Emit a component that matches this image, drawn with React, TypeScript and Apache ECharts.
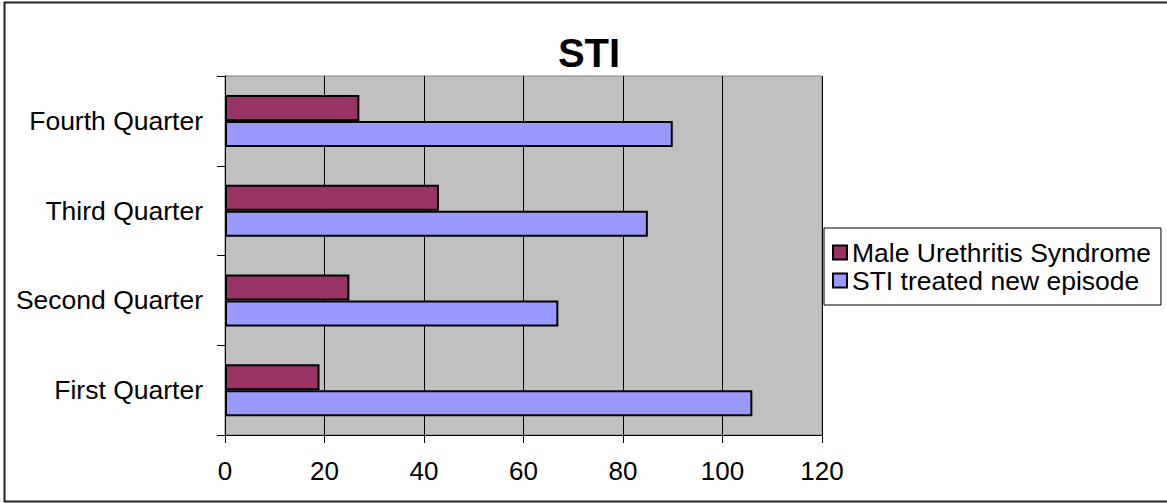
import React, { useEffect, useRef } from "react";
import * as echarts from "echarts";

const categories = ["First Quarter", "Second Quarter", "Third Quarter", "Fourth Quarter"];
const maleUrethritis = [19, 25, 43, 27];
const stiTreated = [106, 67, 85, 90];
const xTicks = { min: 0, max: 120, interval: 20 };
const seriesNames = ["Male Urethritis Syndrome", "STI treated new episode"];

const FONT = "'Liberation Sans', Arial, sans-serif";

export default function App() {
  const ref = useRef<HTMLDivElement>(null);
  useEffect(() => {
    if (!ref.current) return;
    const chart = echarts.init(ref.current, undefined, { renderer: "svg" });
    chart.setOption({
      animation: false,
      backgroundColor: "#ffffff",
      title: {
        text: "STI",
        left: 589,
        top: 33,
        textAlign: "center",
        padding: 0,
        textStyle: { fontFamily: FONT, fontSize: 40, fontWeight: "bold", color: "#000" },
      },
      legend: {
        orient: "vertical",
        left: 824,
        top: 228,
        data: seriesNames,
        backgroundColor: "#fff",
        borderColor: "#000",
        borderWidth: 1,
        padding: [11, 10, 11, 8],
        itemGap: 1,
        itemWidth: 14,
        itemHeight: 14,
        itemTextGap: 9,
        icon: "rect",
        textStyle: { fontFamily: FONT, fontSize: 26.5, color: "#000" },
      },
      grid: {
        left: 225,
        right: 345,
        top: 76,
        bottom: 69,
        show: true,
        backgroundColor: "#c0c0c0",
        borderColor: "#808080",
        borderWidth: 1,
        containLabel: false,
      },
      xAxis: {
        type: "value",
        min: xTicks.min,
        max: xTicks.max,
        interval: xTicks.interval,
        axisLine: { show: true, lineStyle: { color: "#000", width: 1 } },
        axisTick: { show: true, length: 8, lineStyle: { color: "#000" } },
        axisLabel: { fontFamily: FONT, fontSize: 26, color: "#000", margin: 23 },
        splitLine: { show: true, lineStyle: { color: "#000", width: 1 } },
      },
      yAxis: {
        type: "category",
        data: categories,
        axisLine: { show: true, lineStyle: { color: "#000", width: 1 } },
        axisTick: { show: true, length: 8, lineStyle: { color: "#000" } },
        axisLabel: { fontFamily: FONT, fontSize: 26.5, color: "#000", margin: 22 },
        splitLine: { show: false },
      },
      series: [
        {
          name: seriesNames[0],
          type: "bar",
          data: maleUrethritis,
          barWidth: 26,
          barGap: "0%",
          itemStyle: { color: "#993366", borderColor: "#000", borderWidth: 2 },
        },
        {
          name: seriesNames[1],
          type: "bar",
          data: stiTreated,
          barWidth: 26,
          barGap: "0%",
          itemStyle: { color: "#9999ff", borderColor: "#000", borderWidth: 2 },
        },
      ],
      graphic: [
        {
          type: "rect",
          silent: true,
          z: 100,
          shape: { x: 4.5, y: 2.5, width: 1200, height: 499 },
          style: { fill: "none", stroke: "#222", lineWidth: 2 },
        },
      ],
    });
    return () => chart.dispose();
  }, []);
  return (
    <div
      ref={ref}
      style={{ position: "fixed", left: 0, top: 0, width: 1167, height: 504 }}
    />
  );
}
